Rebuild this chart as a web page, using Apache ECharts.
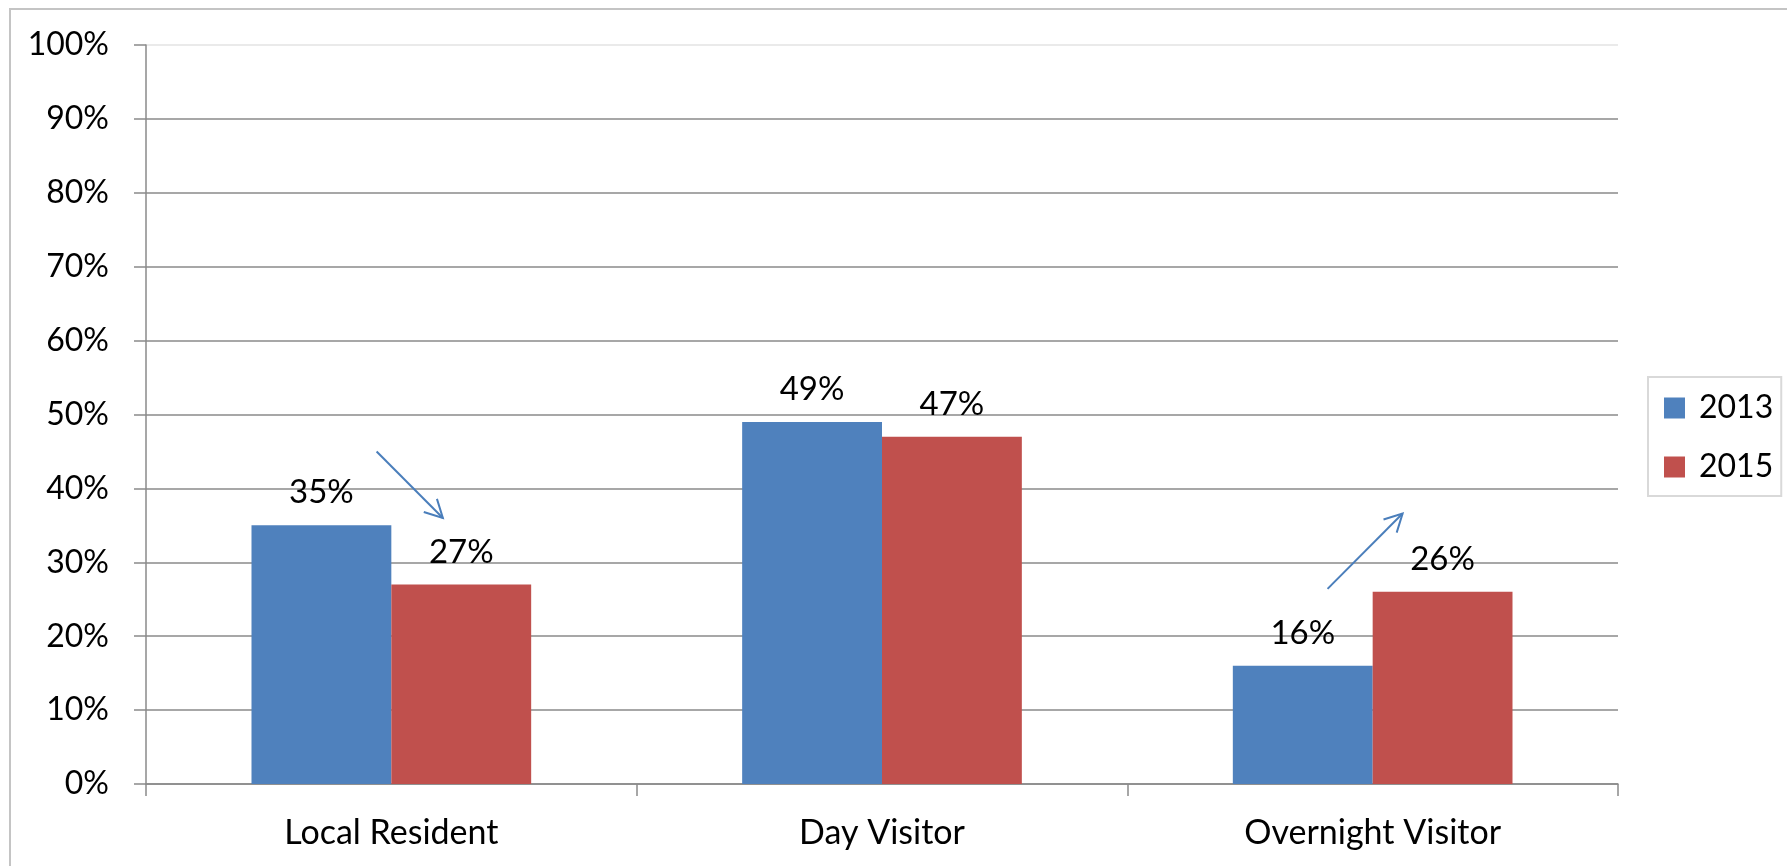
<!DOCTYPE html>
<html>
<head>
<meta charset="utf-8">
<script src="https://cdn.jsdelivr.net/npm/echarts@6/dist/echarts.min.js"></script>
<style>
  html, body { margin: 0; padding: 0; background: #ffffff; }
  #chart { width: 1787px; height: 866px; }
</style>
</head>
<body>
<div id="chart"></div>
<script>
// Visitor type shares, 2013 vs 2015
const categories = ['Local Resident', 'Day Visitor', 'Overnight Visitor'];
const seriesNames = ['2013', '2015'];
const values2013 = [35, 49, 16];
const values2015 = [27, 47, 26];
const yTicks = [0, 10, 20, 30, 40, 50, 60, 70, 80, 90, 100];

// Trend arrows: category, offset within the category band (fraction), value (%)
const trendArrows = [
  { category: 'Local Resident', from: [-0.03, 45], to: [0.105, 36] },
  { category: 'Overnight Visitor', from: [-0.092, 26.4], to: [0.061, 36.6] }
];

const FONT = 'Lato, "Open Sans", sans-serif';
const BLUE = '#4F81BD';
const RED = '#C0504D';
const GRID = '#8a8a8a';

const chart = echarts.init(document.getElementById('chart'), null, { renderer: 'canvas' });

// last split line (100%) is drawn faint
const splitColors = yTicks.map((t, i) => i === yTicks.length - 1 ? '#e3e3e3' : GRID);

const labelCfg = {
  show: true,
  position: 'top',
  distance: 16,
  color: '#000',
  fontFamily: FONT,
  fontSize: 33,
  formatter: p => p.value + '%'
};

chart.setOption({
  animation: false,
  backgroundColor: '#ffffff',
  textStyle: { fontFamily: FONT },
  grid: { left: 146, right: 169, top: 45, bottom: 82, containLabel: false },
  legend: {
    orient: 'vertical',
    left: 1648,
    top: 377,
    data: seriesNames,
    icon: 'rect',
    itemWidth: 21,
    itemHeight: 21,
    itemGap: 27,
    padding: [15, 8, 13, 16],
    borderColor: '#d9d9d9',
    borderWidth: 2,
    textStyle: { fontFamily: FONT, fontSize: 32, color: '#000', padding: [0, 0, 0, 9] }
  },
  xAxis: {
    type: 'category',
    data: categories,
    axisLine: { show: true, lineStyle: { color: GRID, width: 1.5 } },
    axisTick: { show: true, length: 12, inside: false, lineStyle: { color: GRID, width: 1.5 } },
    axisLabel: { color: '#000', fontFamily: FONT, fontSize: 34, margin: 32 }
  },
  yAxis: {
    type: 'value',
    min: 0,
    max: 100,
    interval: 10,
    axisLine: { show: true, lineStyle: { color: GRID, width: 1.5 } },
    axisTick: { show: true, length: 12, inside: false, lineStyle: { color: GRID, width: 1.5 } },
    axisLabel: { color: '#000', fontFamily: FONT, fontSize: 32, margin: 37, formatter: '{value}%' },
    splitLine: { show: true, lineStyle: { color: splitColors, width: 1.5 } }
  },
  series: [
    {
      name: seriesNames[0],
      type: 'bar',
      data: values2013,
      itemStyle: { color: BLUE },
      barGap: '0%',
      barCategoryGap: '43%',
      label: labelCfg
    },
    {
      name: seriesNames[1],
      type: 'bar',
      data: values2015,
      itemStyle: { color: RED },
      barGap: '0%',
      barCategoryGap: '43%',
      label: labelCfg
    }
  ]
});

// Place the trend arrows through the axes' own scales
function bandWidth() {
  const a = chart.convertToPixel({ xAxisIndex: 0 }, categories[0]);
  const b = chart.convertToPixel({ xAxisIndex: 0 }, categories[1]);
  return b - a;
}
function toPixel(category, pt) {
  const cx = chart.convertToPixel({ xAxisIndex: 0 }, category);
  const y = chart.convertToPixel({ yAxisIndex: 0 }, pt[1]);
  return [cx + pt[0] * bandWidth(), y];
}

const graphics = [
  {
    type: 'rect',
    shape: { x: 10, y: 9, width: 1900, height: 1000 },
    style: { fill: 'none', stroke: '#c4c4c4', lineWidth: 2 },
    silent: true,
    z: 0
  }
];

trendArrows.forEach(a => {
  const p0 = toPixel(a.category, a.from);
  const p1 = toPixel(a.category, a.to);
  const ang = Math.atan2(p1[1] - p0[1], p1[0] - p0[0]);
  const head = 20, spread = Math.PI / 6.5;
  const h1 = [p1[0] - head * Math.cos(ang - spread), p1[1] - head * Math.sin(ang - spread)];
  const h2 = [p1[0] - head * Math.cos(ang + spread), p1[1] - head * Math.sin(ang + spread)];
  graphics.push({
    type: 'polyline',
    shape: { points: [p0, p1] },
    style: { stroke: '#4a7ebb', lineWidth: 2, fill: 'none' },
    silent: true, z: 10
  });
  graphics.push({
    type: 'polyline',
    shape: { points: [h1, p1, h2] },
    style: { stroke: '#4a7ebb', lineWidth: 2, fill: 'none', lineJoin: 'miter' },
    silent: true, z: 10
  });
});

chart.setOption({ graphic: graphics });
</script>
</body>
</html>
